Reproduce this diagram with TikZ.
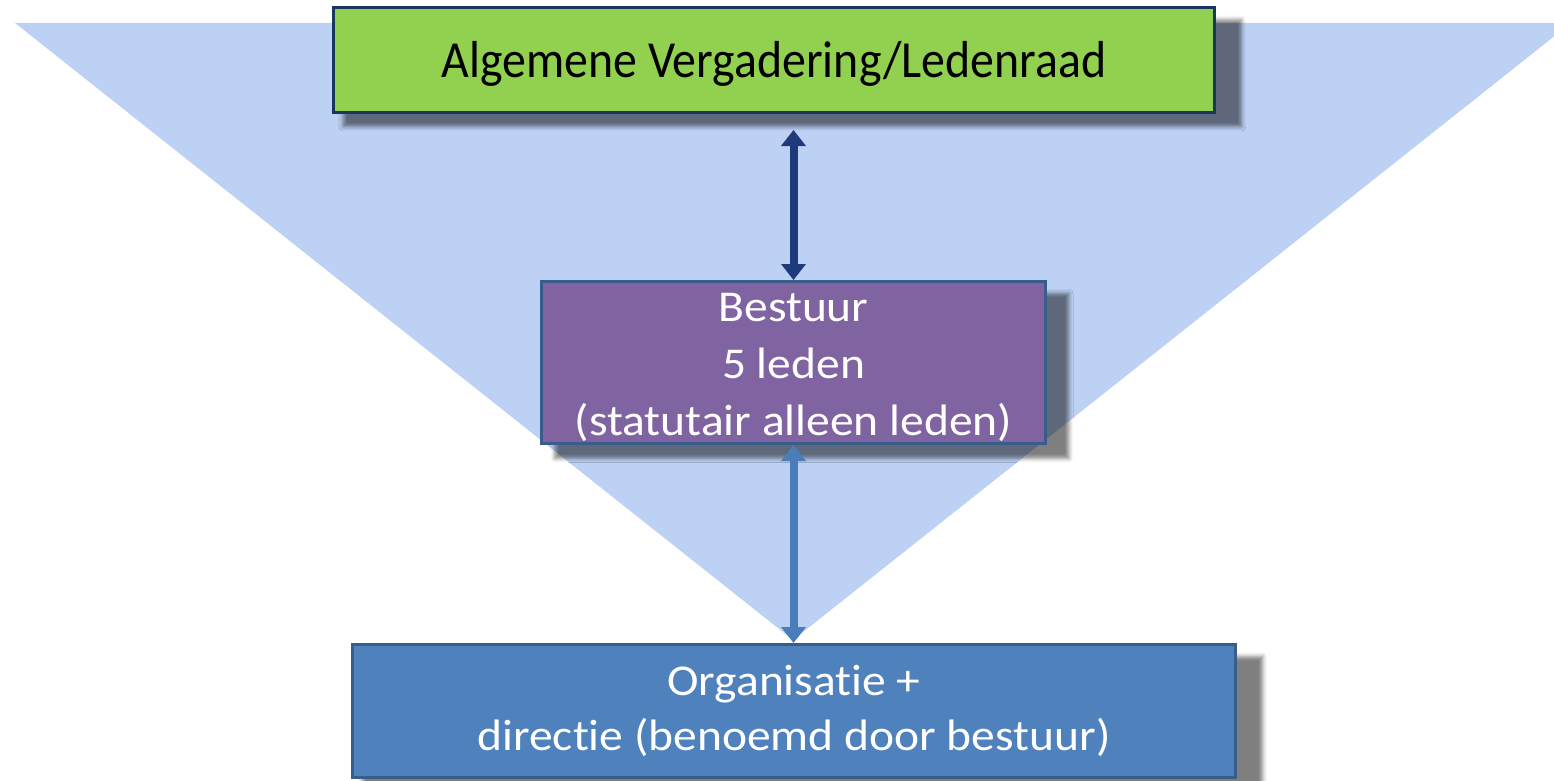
\documentclass[tikz,border=0pt]{standalone}
\usepackage{fontspec}
\newfontfamily\greenfont[FakeStretch=0.92,Ligatures=NoCommon]{Carlito}
\newfontfamily\whitefont[FakeStretch=1.08,Ligatures=NoCommon]{Carlito}
\usetikzlibrary{arrows.meta,shadows.blur}
\definecolor{tri}{RGB}{189,209,245}
\definecolor{gfill}{RGB}{146,208,80}
\definecolor{gborder}{RGB}{23,55,94}
\definecolor{pfill}{RGB}{128,100,162}
\definecolor{bfill}{RGB}{79,129,189}
\definecolor{bborder}{RGB}{56,93,138}
\definecolor{arrdark}{RGB}{31,58,122}
\definecolor{arrblue}{RGB}{74,126,187}
\tikzset{
  box/.style={draw, line width=3pt, inner sep=0pt, align=center,
    blur shadow={shadow scale=1.02, shadow xshift=18pt, shadow yshift=-13pt, shadow blur radius=4pt, shadow opacity=50}},
  dblarrow/.style={line width=8pt, {Triangle[width=24pt,length=16pt]}-{Triangle[width=24pt,length=16pt]}}
}
\begin{document}
\begin{tikzpicture}[x=1pt,y=-1pt]
\useasboundingbox (0,0) rectangle (1554,781);
\clip (0,0) rectangle (1554,781);
\fill[tri] (15,23) -- (1571,23) -- (793,640) -- cycle;
\node[box, fill=gfill, draw=gborder, minimum width=881pt, minimum height=105pt,
  font=\greenfont\fontsize{52}{60}\selectfont, text=black] (green) at (774,60)
  {\raisebox{-4pt}[\height][\depth]{Algemene Vergadering/Ledenraad}};
\node[box, fill=pfill, draw=bborder, minimum width=504pt, minimum height=162pt,
  font=\whitefont\fontsize{44}{57}\selectfont, text=white] (purple) at (793.5,362.5)
  {\raisebox{-11pt}[70pt][70pt]{\begin{tabular}{@{}c@{}}Bestuur\\5 leden\\(statutair alleen leden)\end{tabular}}};
\node[box, fill=bfill, draw=bborder, minimum width=883pt, minimum height=133pt,
  font=\whitefont\fontsize{44}{55}\selectfont, text=white] (blue) at (794,711)
  {Organisatie +\\directie (benoemd door bestuur)};
\draw[dblarrow, draw=arrdark, fill=arrdark] (purple.north) -- ([yshift=-16pt]purple.north |- green.south);
\draw[dblarrow, draw=arrblue, fill=arrblue] (purple.south) -- (purple.south |- blue.north);
\end{tikzpicture}
\end{document}
